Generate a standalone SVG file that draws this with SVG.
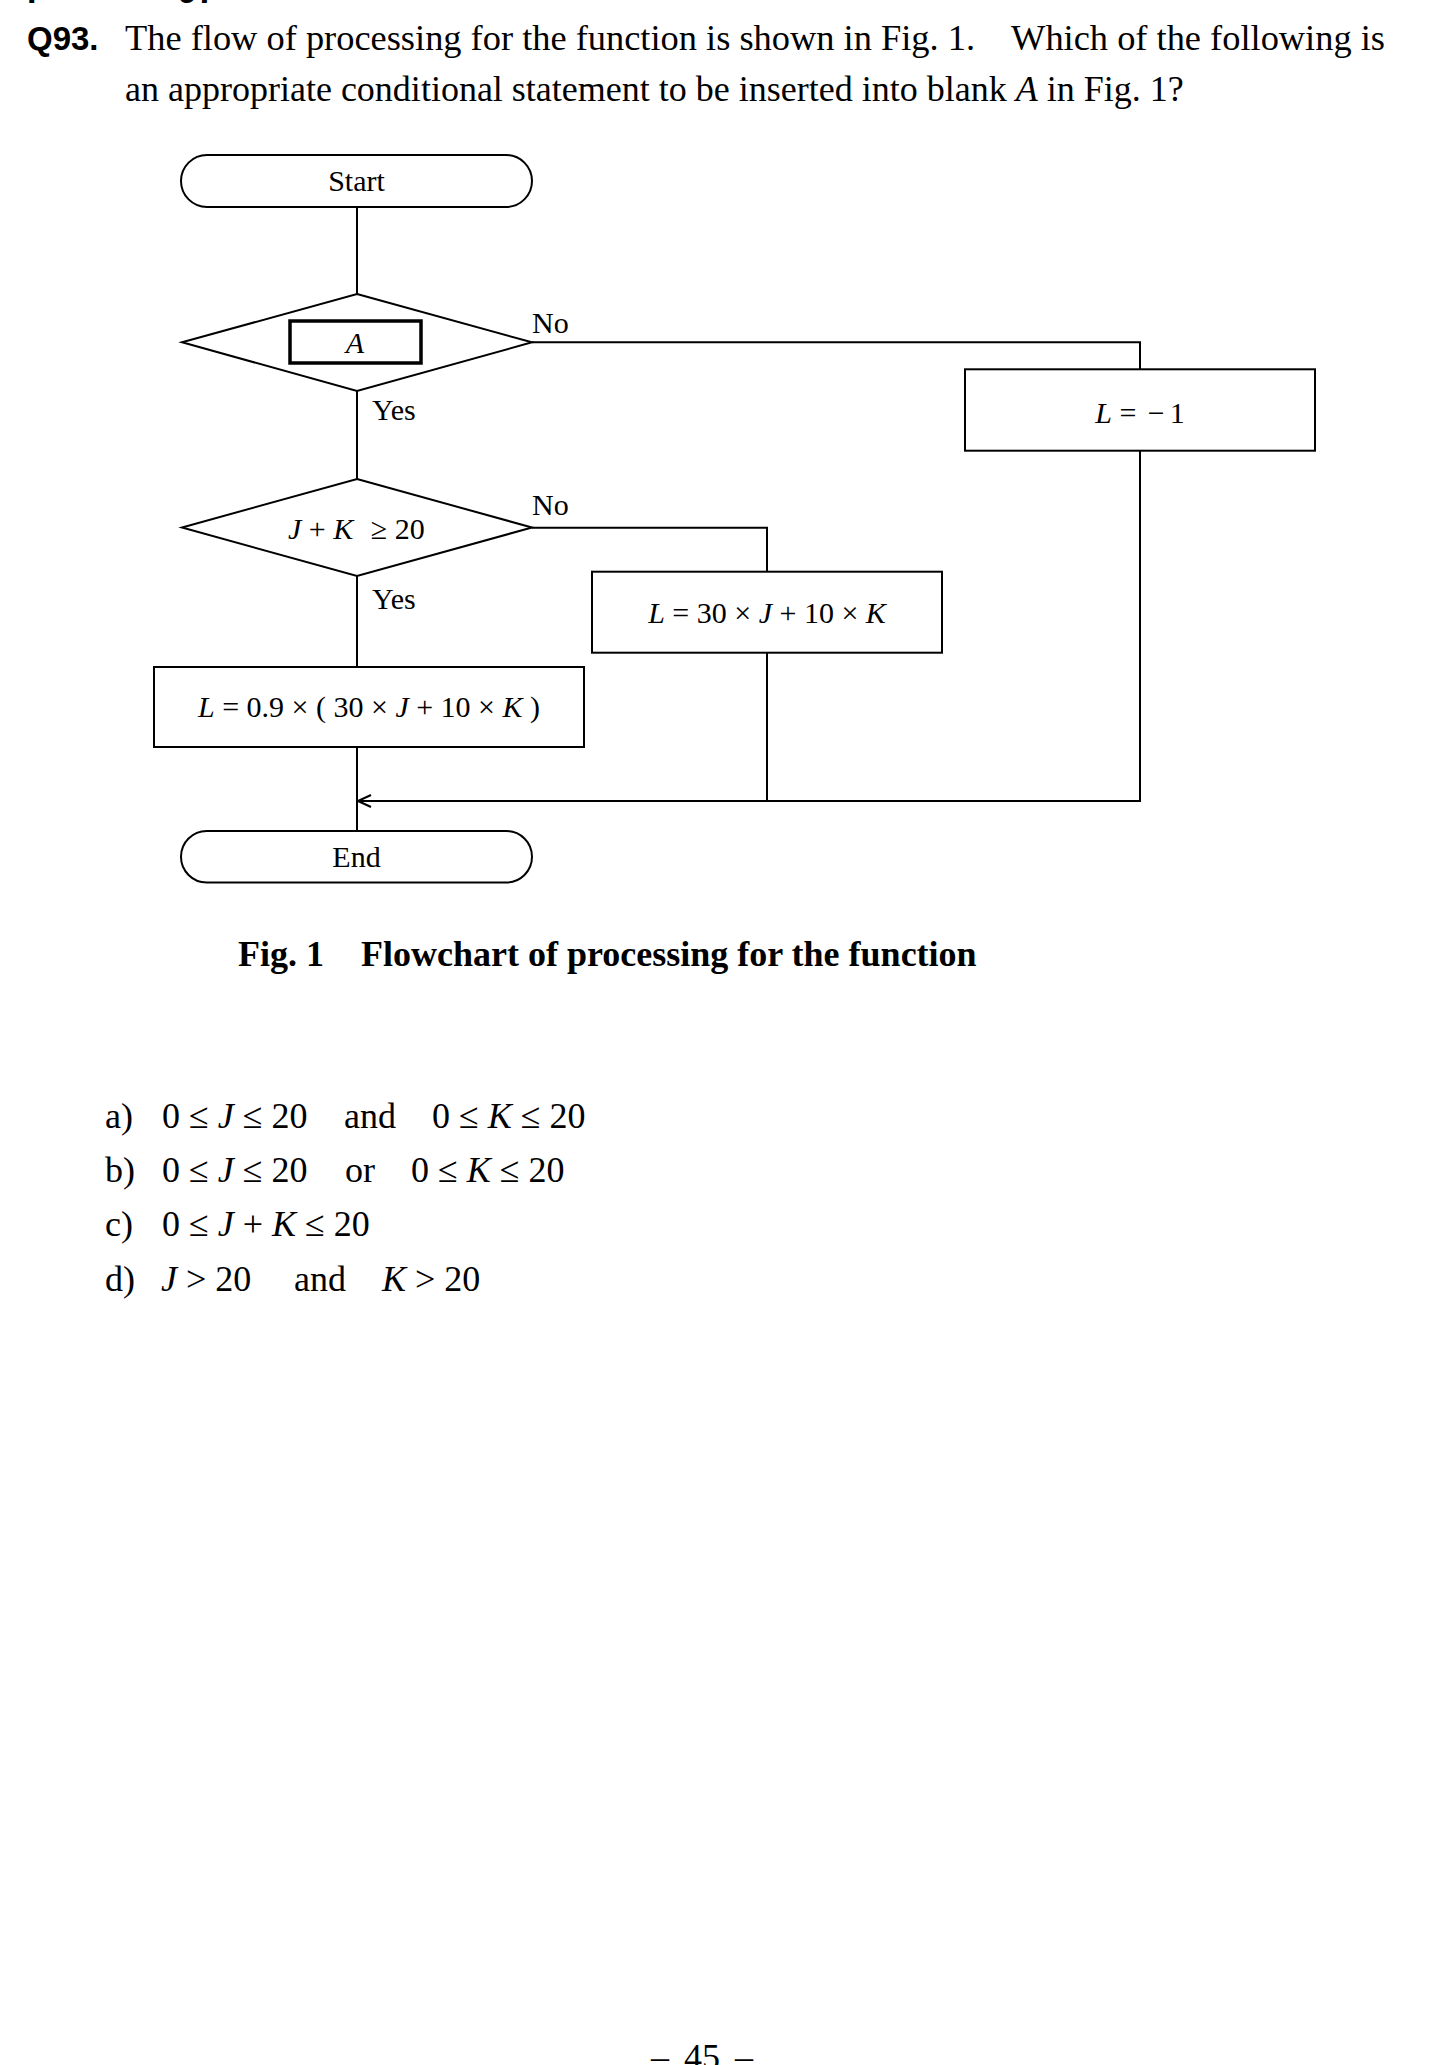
<svg xmlns="http://www.w3.org/2000/svg" width="1450" height="2065" viewBox="0 0 1450 2065">
<style>
  .t{font-family:"Liberation Serif","Times New Roman",serif;fill:#000}
  .b{font-weight:bold}
  .i{font-style:italic}
  .q{font-family:"Liberation Sans",Arial,sans-serif;font-weight:bold;fill:#000}
  .body{font-size:36px}
  .fc{font-size:30px}
  .shape{fill:#fff;stroke:#000;stroke-width:2}
  .line{fill:none;stroke:#000;stroke-width:2}
</style>
<defs>
  <marker id="arr" markerWidth="16" markerHeight="14" refX="14" refY="7" orient="auto" markerUnits="userSpaceOnUse">
    <path d="M1,1 L14,7 L1,13" fill="none" stroke="#000" stroke-width="2"/>
  </marker>
</defs>
<rect width="1450" height="2065" fill="#fff"/>

<!-- cut-off header fragments -->
<text class="q" x="27" y="3" font-size="34">I</text>
<text class="q" x="178" y="3" font-size="34">97</text>

<!-- question -->
<text class="q" x="27" y="50" font-size="33">Q93.</text>
<text class="t" font-size="36.4" x="125" y="50">The flow of processing for the function is shown in Fig. 1.</text>
<text class="t" font-size="36.4" x="1385" y="50" text-anchor="end">Which of the following is</text>
<text class="t body" x="125" y="101">an appropriate conditional statement to be inserted into blank <tspan class="i">A</tspan> in Fig. 1?</text>

<!-- connectors -->
<g id="connectors">
  <line class="line" x1="357" y1="207" x2="357" y2="294"/>
  <line class="line" x1="357" y1="391" x2="357" y2="479"/>
  <line class="line" x1="357" y1="576" x2="357" y2="667"/>
  <line class="line" x1="357" y1="747" x2="357" y2="831"/>
  <polyline class="line" points="532,342.3 1140,342.3 1140,369.3"/>
  <polyline class="line" points="532,527.7 767,527.7 767,571.7"/>
  <line class="line" x1="767" y1="652.7" x2="767" y2="801"/>
  <polyline class="line" points="1140,450.7 1140,801 358,801" marker-end="url(#arr)"/>
  <text class="t fc" x="532" y="333">No</text>
  <text class="t fc" x="372" y="420">Yes</text>
  <text class="t fc" x="532" y="515">No</text>
  <text class="t fc" x="372" y="609">Yes</text>
</g>

<g id="start">
  <rect class="shape" x="181" y="155" width="351" height="52" rx="26" ry="26"/>
  <text class="t fc" x="356.5" y="191" text-anchor="middle">Start</text>
</g>

<g id="decisionA">
  <polygon class="shape" points="357,294 532,342.3 357,391 182,342.3"/>
  <rect x="290" y="321" width="131" height="42" fill="#fff" stroke="#000" stroke-width="3.5"/>
  <text class="t fc i" x="355" y="353" text-anchor="middle">A</text>
</g>

<g id="decisionJK">
  <polygon class="shape" points="357,479 532,527.5 357,576 182,527.5"/>
  <text class="t fc" x="288" y="539"><tspan class="i">J</tspan> + <tspan class="i">K</tspan> <tspan dx="10">≥</tspan> 20</text>
</g>

<g id="boxMinus1">
  <rect class="shape" x="965" y="369.3" width="350" height="81.4"/>
  <text class="t fc" x="1140" y="423" text-anchor="middle"><tspan class="i">L</tspan> = <tspan dx="4">−</tspan><tspan dx="5">1</tspan></text>
</g>

<g id="boxNormal">
  <rect class="shape" x="592" y="571.7" width="350" height="81"/>
  <text class="t fc" x="767" y="623" text-anchor="middle"><tspan class="i">L</tspan> = 30 × <tspan class="i">J</tspan> + 10 × <tspan class="i">K</tspan></text>
</g>

<g id="boxDiscount">
  <rect class="shape" x="154" y="667" width="430" height="80"/>
  <text class="t fc" x="369" y="717" text-anchor="middle"><tspan class="i">L</tspan> = 0.9 × ( 30 × <tspan class="i">J</tspan> + 10 × <tspan class="i">K</tspan> )</text>
</g>

<g id="end">
  <rect class="shape" x="181" y="831" width="351" height="51.5" rx="25.75" ry="25.75"/>
  <text class="t fc" x="356.5" y="867" text-anchor="middle">End</text>
</g>

<!-- caption -->
<text class="t b body" x="238" y="966">Fig. 1</text>
<text class="t b body" x="361" y="966">Flowchart of processing for the function</text>

<!-- options -->
<g id="options" class="t body">
  <text x="105" y="1128">a)</text>
  <text x="162" y="1128">0 ≤ <tspan class="i">J</tspan> ≤ 20</text>
  <text x="344" y="1128">and</text>
  <text x="432" y="1128">0 ≤ <tspan class="i">K</tspan> ≤ 20</text>

  <text x="105" y="1182">b)</text>
  <text x="162" y="1182">0 ≤ <tspan class="i">J</tspan> ≤ 20</text>
  <text x="345" y="1182">or</text>
  <text x="411" y="1182">0 ≤ <tspan class="i">K</tspan> ≤ 20</text>

  <text x="105" y="1236">c)</text>
  <text x="162" y="1236">0 ≤ <tspan class="i">J</tspan> + <tspan class="i">K</tspan> ≤ 20</text>

  <text x="105" y="1291">d)</text>
  <text x="161" y="1291"><tspan class="i">J</tspan> &gt; 20</text>
  <text x="294" y="1291">and</text>
  <text x="382" y="1291"><tspan class="i">K</tspan> &gt; 20</text>
</g>

<text class="t body" x="702" y="2069" text-anchor="middle">– <tspan dx="6">45</tspan> <tspan dx="6">–</tspan></text>
</svg>
